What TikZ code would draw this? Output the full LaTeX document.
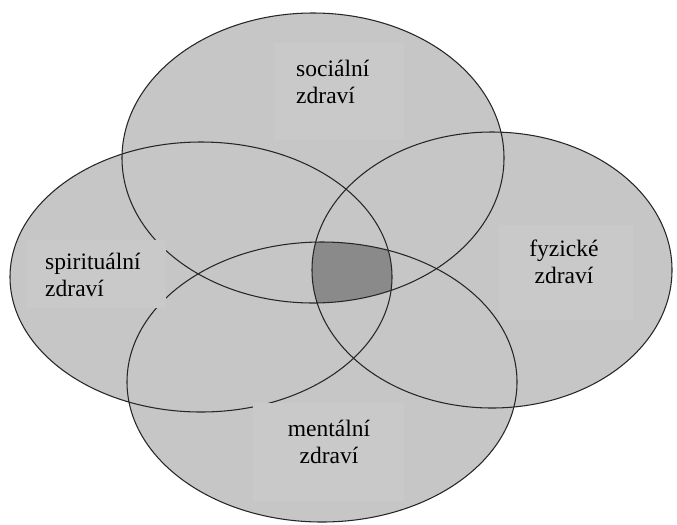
\documentclass[tikz,border=0pt]{standalone}
\usepackage{fontspec}
\newfontfamily\labelfont{Liberation Serif}
\usepackage{xcolor}
\usepackage{tikz}

\definecolor{ringgray}{HTML}{C6C6C6}
\definecolor{boxgray}{HTML}{C9C9C9}
\definecolor{coregray}{HTML}{8A8A8A}

\begin{document}
\begin{tikzpicture}[x=0.85pt,y=-0.85pt]
        \useasboundingbox (0,0) rectangle (677,524);
        % centres of the four ellipses
        \coordinate (soc) at (313,158);
        \coordinate (spi) at (201,277);
        \coordinate (fyz) at (492,270);
        \coordinate (men) at (322,382);
        \begin{scope}[fill=ringgray]
          \fill (soc) ellipse [x radius=191,y radius=145];
          \fill (spi) ellipse [x radius=191,y radius=135];
          \fill (fyz) ellipse [x radius=180,y radius=138];
          \fill (men) ellipse [x radius=195,y radius=140];
        \end{scope}
        % part shared by all four
        \begin{scope}
          \clip (soc) ellipse [x radius=191,y radius=145];
          \clip (spi) ellipse [x radius=191,y radius=135];
          \clip (fyz) ellipse [x radius=180,y radius=138];
          \fill[coregray] (men) ellipse [x radius=195,y radius=140];
        \end{scope}
        \begin{scope}[draw=black!85,line width=0.9pt]
          \draw (soc) ellipse [x radius=191,y radius=145];
          \draw (spi) ellipse [x radius=191,y radius=135];
          \draw (fyz) ellipse [x radius=180,y radius=138];
          \draw (men) ellipse [x radius=195,y radius=140];
        \end{scope}
        % text boxes
        \begin{scope}[fill=boxgray]
          \fill (274,43) rectangle (404,140);
          \fill (26,240) rectangle (166,308);
          \fill (499,225) rectangle (633,320);
          \fill (253,403) rectangle (404,502);
        \end{scope}
        \begin{scope}[every node/.style={font=\labelfont\fontsize{20}{22.5}\selectfont,inner sep=0pt}]
          \node[anchor=west,align=left] (s) at (296,82) {sociální\\zdraví};
          \node[anchor=west,align=left] (p) at (45,275) {spirituální\\zdraví};
          \node[align=center] (f) at (564,262) {fyzické\\zdraví};
          \node[align=center] (m) at (329,442) {mentální\\zdraví};
        \end{scope}
      \end{tikzpicture}
\end{document}
